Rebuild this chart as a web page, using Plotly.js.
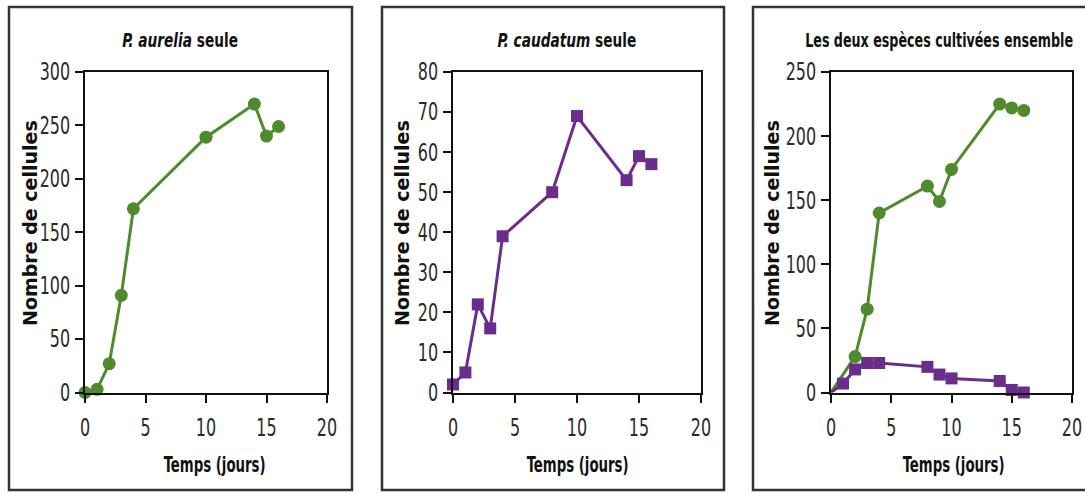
<!DOCTYPE html>
<html>
<head>
<meta charset="utf-8">
<script src="https://cdn.plot.ly/plotly-3.0.1.min.js"></script>
<style>
html,body{margin:0;padding:0;background:#fff;}
#chart{width:1085px;height:493px;}
</style>
</head>
<body>
<div id="chart"></div>
<script>
// ---- Data ----
const titles = ["<i>P. aurelia</i> seule", "<i>P. caudatum</i> seule", "Les deux espèces cultivées ensemble"];
const yTitle = "Nombre de cellules";
const xTitle = "Temps (jours)";

const aureliaDays = [0, 1, 2, 3, 4, 10, 14, 15, 16];
const aureliaAlone = [0, 3, 27, 91, 172, 239, 270, 240, 249];

const caudatumDays = [0, 1, 2, 3, 4, 8, 10, 14, 15, 16];
const caudatumAlone = [2, 5, 22, 16, 39, 50, 69, 53, 59, 57];

const mixAureliaDays = [0, 2, 3, 4, 8, 9, 10, 14, 15, 16];
const mixAurelia = [0, 28, 65, 140, 161, 149, 174, 225, 222, 220];

const mixCaudatumDays = [0, 1, 2, 3, 4, 8, 9, 10, 14, 15, 16];
const mixCaudatum = [0, 7, 18, 23, 23, 20, 14, 11, 9, 2, 0];

const yRanges = [[0, 300], [0, 80], [0, 250]];
const yDtick = [50, 10, 50];
const xTicks = [0, 5, 10, 15, 20];

// ---- Style ----
const W = 1085, H = 493;
const GREEN = "#4f8b2c";
const PURPLE = "#6b2d8c";
const px = v => v / W;
const py = v => 1 - v / H;

const plotX = [[85, 327], [453, 701], [831, 1072]];
const plotTop = 72, plotBottom = 392.5;
const boxes = [[9, 352], [382, 724], [753, 1100]];
const titleX = [180, 567, 939];
const titleW = [116, 139, 268];
const yTitleX = [30, 402, 772];
const xTitleX = [214, 577, 954];
const xTitleW = 102;

const narrow = "'Liberation Sans Narrow', 'DejaVu Sans Condensed', 'Liberation Sans', sans-serif";

function lineTrace(x, y, color, symbol, axis, firstHidden) {
  const op = x.map((_, i) => (firstHidden && i === 0) ? 0 : 1);
  return {
    x: x, y: y, type: "scatter", mode: "lines+markers",
    xaxis: "x" + axis, yaxis: "y" + axis,
    line: {color: color, width: 3},
    marker: {color: color, size: symbol === "square" ? 12 : 13, symbol: symbol, opacity: op},
    cliponaxis: false, showlegend: false, hoverinfo: "x+y"
  };
}

const data = [
  lineTrace(aureliaDays, aureliaAlone, GREEN, "circle", "", false),
  lineTrace(caudatumDays, caudatumAlone, PURPLE, "square", "2", false),
  lineTrace(mixAureliaDays, mixAurelia, GREEN, "circle", "3", true),
  lineTrace(mixCaudatumDays, mixCaudatum, PURPLE, "square", "3", true)
];

const layout = {
  width: W, height: H,
  margin: {l: 0, r: 0, t: 0, b: 0},
  paper_bgcolor: "#fff", plot_bgcolor: "#fff",
  showlegend: false,
  shapes: [], annotations: []
};

for (let i = 0; i < 3; i++) {
  const s = i === 0 ? "" : String(i + 1);
  layout["xaxis" + s] = {
    domain: [px(plotX[i][0]), px(plotX[i][1])],
    anchor: "y" + s, range: [0, 20], tickvals: xTicks,
    showgrid: false, zeroline: false,
    showline: true, linecolor: "#111", linewidth: 2, mirror: true,
    ticks: "outside", ticklen: 8, tickwidth: 2, tickcolor: "#111",
    ticklabeloverflow: "allow", ticklabelstandoff: 5,
    tickfont: {family: narrow, size: 24, color: "#2a2a2a"}
  };
  layout["yaxis" + s] = {
    domain: [py(plotBottom), py(plotTop)],
    anchor: "x" + s, range: yRanges[i], dtick: yDtick[i], tick0: 0,
    showgrid: false, zeroline: false,
    showline: true, linecolor: "#111", linewidth: 2, mirror: true,
    ticks: "outside", ticklen: 8, tickwidth: 2, tickcolor: "#111",
    ticklabeloverflow: "allow",
    tickfont: {family: narrow, size: 24, color: "#2a2a2a"}
  };
  layout.shapes.push({
    type: "rect", xref: "paper", yref: "paper",
    x0: px(boxes[i][0]), x1: px(boxes[i][1]), y0: py(490), y1: py(7),
    line: {color: "#333", width: 2.5}, fillcolor: "rgba(0,0,0,0)", layer: "below"
  });
  layout.annotations.push({
    text: "<b>" + titles[i] + "</b>", xref: "paper", yref: "paper",
    x: px(titleX[i]), y: py(41), xanchor: "center", yanchor: "middle",
    showarrow: false, font: {family: narrow, size: 19.5, color: "#111"},
    name: "squeeze:" + titleW[i]
  });
  layout.annotations.push({
    text: "<b>" + yTitle + "</b>", xref: "paper", yref: "paper",
    x: px(yTitleX[i]), y: py(223), xanchor: "center", yanchor: "middle",
    textangle: -90, showarrow: false,
    font: {family: "'DejaVu Sans', Verdana, sans-serif", size: 19, color: "#111"}
  });
  layout.annotations.push({
    text: "<b>" + xTitle + "</b>", xref: "paper", yref: "paper",
    x: px(xTitleX[i]), y: py(465), xanchor: "center", yanchor: "middle",
    showarrow: false, font: {family: narrow, size: 20.5, color: "#111"},
    name: "squeeze:" + xTitleW
  });
}

// horizontal squeeze of a text element about an anchor point (keeps real text)
function squeeze(el, s, anchor) {
  const b = el.getBBox();
  const cx = anchor === "end" ? b.x + b.width : b.x + b.width / 2;
  const t = el.getAttribute("transform") || "";
  el.setAttribute("transform", t + " translate(" + cx + ",0) scale(" + s + ",1) translate(" + (-cx) + ",0)");
}

Plotly.newPlot("chart", data, layout, {displayModeBar: false, staticPlot: true}).then(gd => {
  gd.querySelectorAll(".yaxislayer-above text").forEach(el => squeeze(el, 0.74, "end"));
  gd.querySelectorAll(".xaxislayer-above text").forEach(el => squeeze(el, 0.74, "middle"));
  const anns = gd.querySelectorAll(".annotation");
  anns.forEach((g, k) => {
    const ann = gd.layout.annotations[k];
    if (ann && ann.name && ann.name.indexOf("squeeze:") === 0) {
      const target = parseFloat(ann.name.split(":")[1]);
      const el = g.querySelector("text.annotation-text");
      const w = el.getBBox().width;
      if (w > 0) squeeze(el, target / w, "middle");
    }
  });
});
</script>
</body>
</html>
